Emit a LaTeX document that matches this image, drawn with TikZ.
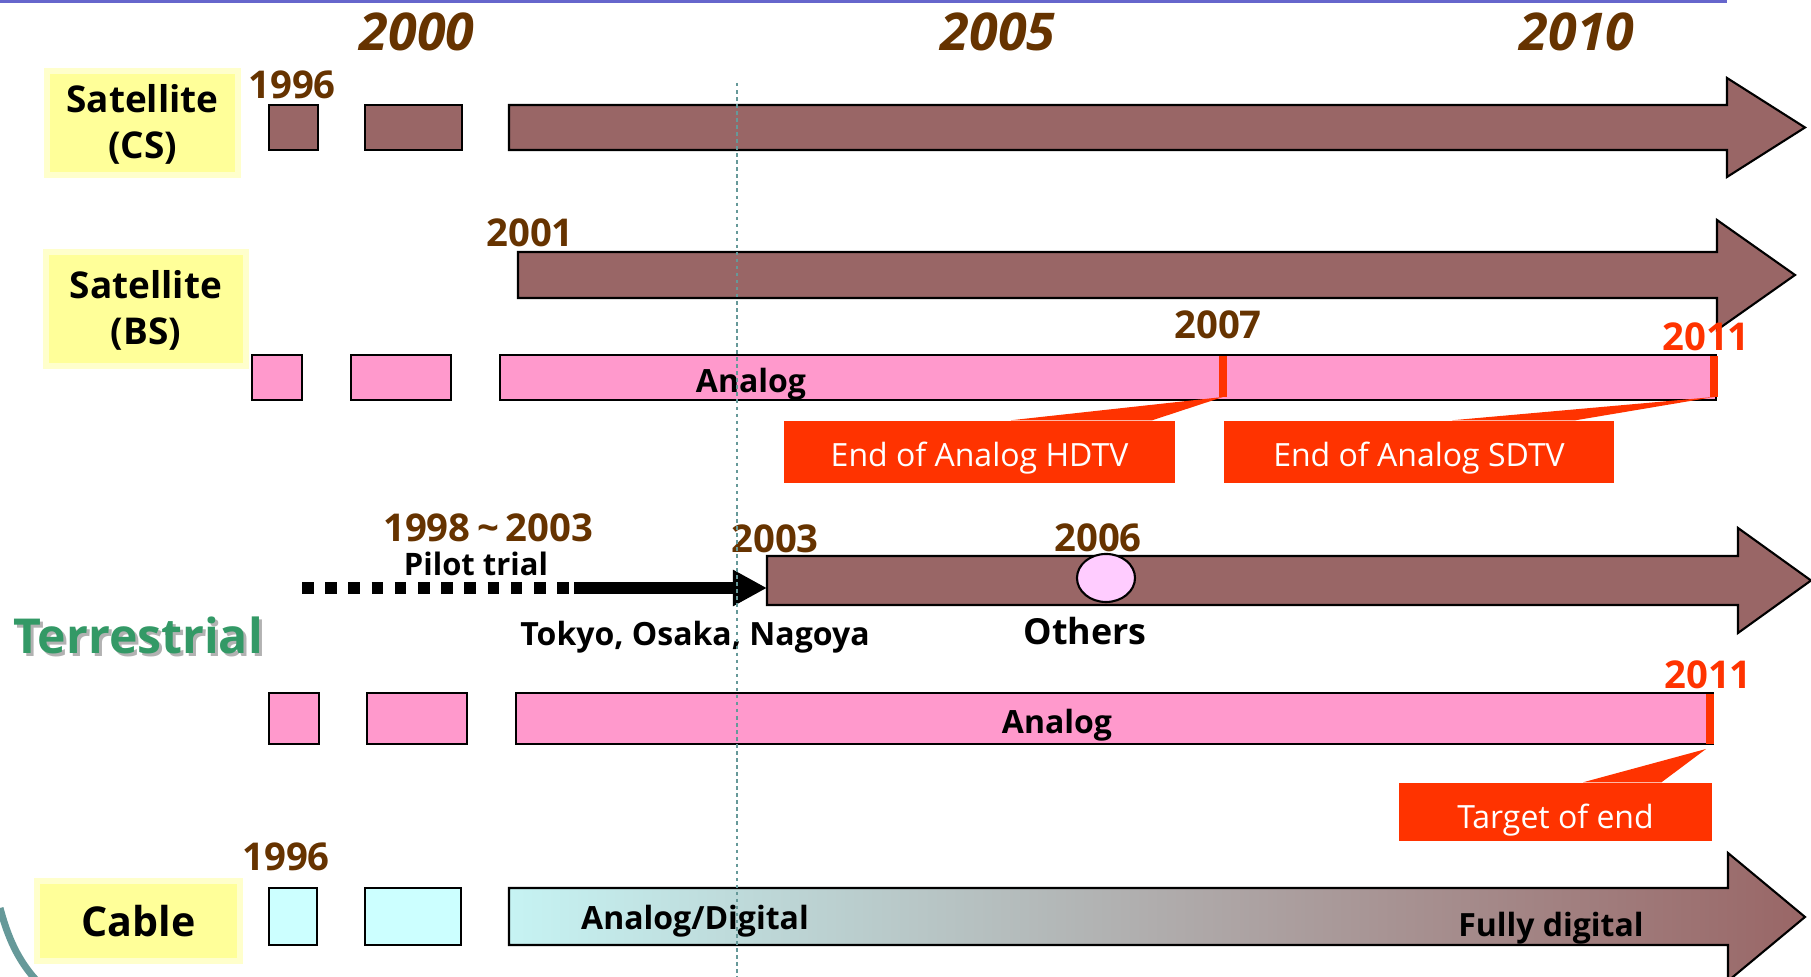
\documentclass[tikz,border=0pt]{standalone}
\usepackage{fontspec}
\setmainfont{Open Sans}
\usetikzlibrary{arrows.meta,calc,shapes.geometric}

\definecolor{barbrown}{HTML}{996666}
\definecolor{barpink}{HTML}{FF99CC}
\definecolor{barcyan}{HTML}{CCFFFF}
\definecolor{cablecyan}{HTML}{C6F3F3}
\definecolor{cablegray}{HTML}{ABABAB}
\definecolor{labyellow}{HTML}{FFFF99}
\definecolor{labedge}{HTML}{FFFFCC}
\definecolor{endred}{HTML}{FF3300}
\definecolor{yearbrown}{HTML}{663300}
\definecolor{terrgreen}{HTML}{339966}
\definecolor{otherpink}{HTML}{FFCCFF}
\definecolor{guideteal}{HTML}{669999}
\definecolor{topline}{HTML}{6666CC}

% two-line category label, set a little low in its box
\newcommand{\catlab}[2]{\raisebox{-1pt}[\height][\depth]{\begin{tabular}{@{}c@{}}#1\\#2\end{tabular}}}

\tikzset{
	catbox/.style={fill=labyellow, draw=labedge, line width=1.7pt, align=center,
		inner sep=0pt, font=\fontsize{10.5}{13.1}\selectfont\bfseries},
	yearbig/.style={text=yearbrown, inner sep=0pt, font=\fontsize{14.8}{17}\selectfont\bfseries\itshape},
	yearlab/.style={text=yearbrown, inner sep=0pt, font=\fontsize{10.9}{13}\selectfont\bfseries},
	endyear/.style={yearlab, text=endred},
	barlab/.style={inner sep=0pt, font=\fontsize{9.1}{11}\selectfont\bfseries},
	endbox/.style={fill=endred, text=white, inner sep=0pt, minimum height=0.62cm,
		text height=8.5pt, text depth=0pt, font=\fontsize{9.1}{11}\selectfont},
	blockline/.style={draw=black, line width=0.6pt},
	endtick/.style={endred, line width=2pt},
}

\begin{document}
\begin{tikzpicture}[x=0.01cm, y=-0.01cm]
		\useasboundingbox (0,0) rectangle (1811,977);
		
		% top rule and corner arc
		\draw[topline, line width=0.85pt] (0,1.5) -- (1727,1.5);
		\draw[guideteal, line width=2pt] (0,908) .. controls (8,938) and (18,960) .. (36,980);
		
		% years
		\node[yearbig] (y2000) at (417,32) {2000};
		\node[yearbig] (y2005) at (998,32) {2005};
		\node[yearbig] (y2010) at (1577,32) {2010};
		
		% Satellite (CS)
		\node[catbox, minimum width=1.91cm, minimum height=1.04cm] (cs) at (142.5,123) {\catlab{Satellite}{(CS)}};
		\node[yearlab] (cs1996) at (292,85) {1996};
		\draw[blockline, fill=barbrown] (269,105) rectangle (318,150);
		\draw[blockline, fill=barbrown] (365,105) rectangle (462,150);
		\draw[blockline, fill=barbrown] (509,105) -- (1727,105) -- (1727,78) -- (1805,127.5)
		-- (1727,177) -- (1727,150) -- (509,150) -- cycle;
		
		% Satellite (BS)
		\node[catbox, minimum width=2.00cm, minimum height=1.14cm] (bs) at (146,309) {\catlab{Satellite}{(BS)}};
		\node[yearlab] (bs2001) at (530,233) {2001};
		\draw[blockline, fill=barbrown] (518,252) -- (1717,252) -- (1717,220) -- (1795,275)
		-- (1717,330) -- (1717,298) -- (518,298) -- cycle;
		\draw[blockline, fill=barpink] (252,355) rectangle (302,400);
		\draw[blockline, fill=barpink] (351,355) rectangle (451,400);
		\draw[blockline, fill=barpink] (500,355) rectangle (1716,400);
		\node[barlab] (bsana) at (751,384) {Analog};
		\coordinate (t2007) at (1223,397);
		\coordinate (t2011) at (1714,397);
		\draw[endtick] (1223,356) -- (t2007);
		\draw[endtick] (1714,356) -- (t2011);
		\node[yearlab] (bs2007) at (1218,325) {2007};
		\node[endyear] (bs2011) at (1706,337) {2011};
		
		% callouts
		\node[endbox, minimum width=3.91cm] (hdtv) at (979.5,452) {End of Analog HDTV};
		\node[endbox, minimum width=3.90cm] (sdtv) at (1419,452) {End of Analog SDTV};
		\fill[endred] (t2007) -- ($(hdtv.north west)!0.58!(hdtv.north east)$)
		-- ($(hdtv.north west)!0.94!(hdtv.north east)$) -- cycle;
		\fill[endred] (t2011) -- ($(sdtv.north west)!0.585!(sdtv.north east)$)
		-- ($(sdtv.north west)!0.9!(sdtv.north east)$) -- cycle;
		
		% Terrestrial
		\node[text=gray!60, inner sep=0pt, font=\fontsize{13.7}{16}\selectfont\bfseries] at (141,638) {Terrestrial};
		\node[text=terrgreen, inner sep=0pt, font=\fontsize{13.7}{16}\selectfont\bfseries] (terr) at (138,635) {Terrestrial};
		\node[yearlab] (pilotyr) at (488,528) {1998\,\textasciitilde\,2003};
		\node[barlab, font=\fontsize{8.8}{11}\selectfont\bfseries] (pilot) at (476,564) {Pilot trial};
		\draw[blockline, fill=barbrown] (767,556) -- (1738,556) -- (1738,528) -- (1811,580.5)
		-- (1738,633) -- (1738,605) -- (767,605) -- cycle;
		\coordinate (pilotA) at (302,588);
		\coordinate (pilotB) at (574,588);
		\coordinate (terstart) at (767,588);
		\draw[line width=3.4pt, dash pattern=on 3.3pt off 3.3pt] (pilotA) -- (pilotB);
		\draw[line width=3.4pt, -{Triangle[length=9.7pt, width=9.7pt]}] (pilotB) -- (terstart);
		\node[yearlab] (t2003) at (775,539) {2003};
		\node[barlab] (cities) at (695,637) {Tokyo, Osaka, Nagoya};
		\node[draw=black, line width=0.6pt, fill=otherpink, ellipse, minimum width=0.58cm,
		minimum height=0.48cm, inner sep=0pt] (oth) at (1106,578) {};
		\node[yearlab] (t2006) at (1098,538) {2006};
		\node[barlab, font=\fontsize{10.2}{12}\selectfont\bfseries] (others) at (1085,631) {Others};
		\draw[blockline, fill=barpink] (269,693) rectangle (319,744);
		\draw[blockline, fill=barpink] (367,693) rectangle (467,744);
		\draw[blockline, fill=barpink] (516,693) rectangle (1713,744);
		\node[barlab] (terana) at (1057,725) {Analog};
		\coordinate (tt2011) at (1710,744);
		\draw[endtick] (1710,694) -- (tt2011);
		\node[endyear] (ter2011) at (1708,675) {2011};
		\node[endbox, minimum width=3.13cm, minimum height=0.58cm, text height=9.3pt] (target) at (1555.5,812) {Target of end};
		\fill[endred] (1706,749) -- ($(target.north west)!0.588!(target.north east)$)
		-- ($(target.north west)!0.837!(target.north east)$) -- cycle;
		
		% Cable
		\node[catbox, minimum width=2.03cm, minimum height=0.80cm, font=\fontsize{11.7}{14}\selectfont\bfseries] (cable) at (138.5,921) {Cable};
		\node[yearlab] (cb1996) at (286,857) {1996};
		\draw[blockline, fill=barcyan] (269,888) rectangle (317,945);
		\draw[blockline, fill=barcyan] (365,888) rectangle (461,945);
		\shade[left color=cablecyan, middle color=cablegray, right color=barbrown]
		(509,888) -- (1728,888) -- (1728,853) -- (1805,917) -- (1728,981) -- (1728,945) -- (509,945) -- cycle;
		\draw[blockline] (509,888) -- (1728,888) -- (1728,853) -- (1805,917) -- (1728,981)
		-- (1728,945) -- (509,945) -- cycle;
		\node[barlab] (anadig) at (695,921) {Analog/Digital};
		\node[barlab] (fully) at (1551,928) {Fully digital};
		
		% guide at 2003
		\draw[guideteal, line width=0.3pt, dash pattern=on 1pt off 1pt] (737,83) -- (737,977);
		
	\end{tikzpicture}
\end{document}
